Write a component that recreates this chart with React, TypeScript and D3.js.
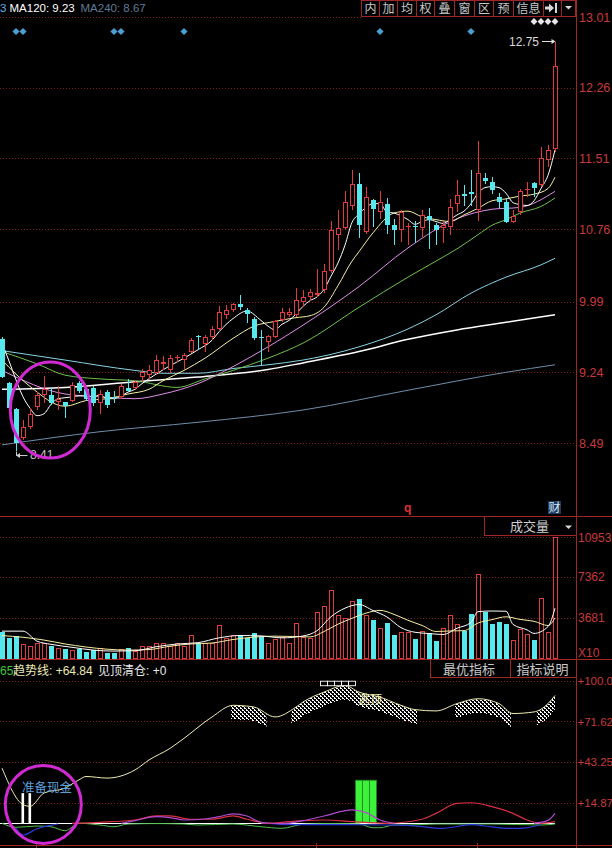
import React from "react";
import * as d3 from "d3";

// K线数据 (80根)
const opens = [
  9.59, 9.13, 8.85, 8.54, 8.66, 8.87, 9.0, 9.0, 8.93, 8.92,
  8.94, 9.13, 9.06, 9.07, 8.91, 9.03, 8.98, 8.98, 9.07, 9.07,
  9.19, 9.21, 9.23, 9.33, 9.26, 9.39, 9.37, 9.46, 9.63, 9.54,
  9.62, 9.7, 9.85, 9.9, 9.96, 9.9, 9.81, 9.62, 9.56, 9.62,
  9.79, 9.85, 9.85, 9.99, 10.04, 10.06, 10.11, 10.31, 10.7, 10.77,
  11.0, 11.24, 10.73, 11.07, 10.94, 11.03, 10.8, 10.75, 10.78, 10.79,
  10.77, 10.9, 10.8, 10.77, 10.78, 11.03, 11.13, 11.15, 10.96, 11.3,
  11.26, 11.1, 11.05, 10.84, 10.94, 11.17, 11.25, 11.23, 11.49, 11.61,
];
const highs = [
  9.61, 9.14, 8.86, 8.73, 8.86, 9.03, 9.2, 9.07, 9.1, 8.93,
  9.14, 9.15, 9.08, 9.1, 9.05, 9.05, 9.04, 9.12, 9.17, 9.16,
  9.28, 9.32, 9.42, 9.41, 9.42, 9.42, 9.44, 9.6, 9.64, 9.64,
  9.73, 9.94, 9.95, 9.98, 10.06, 9.92, 9.83, 9.69, 9.64, 9.8,
  9.92, 9.92, 10.13, 10.11, 10.12, 10.34, 10.39, 10.85, 10.96, 11.16,
  11.39, 11.35, 11.21, 11.08, 11.16, 11.09, 10.87, 10.96, 10.82, 10.85,
  10.96, 10.98, 10.82, 10.85, 11.08, 11.28, 11.23, 11.39, 11.69, 11.36,
  11.31, 11.14, 11.09, 10.96, 11.19, 11.26, 11.26, 11.63, 11.65, 12.75,
];
const lows = [
  9.18, 8.84, 8.41, 8.52, 8.64, 8.84, 8.91, 8.89, 8.84, 8.76,
  8.93, 9.02, 8.94, 8.88, 8.8, 8.86, 8.91, 8.96, 9.03, 9.05,
  9.14, 9.16, 9.21, 9.26, 9.23, 9.35, 9.26, 9.44, 9.48, 9.46,
  9.58, 9.69, 9.81, 9.88, 9.9, 9.76, 9.58, 9.32, 9.46, 9.6,
  9.77, 9.83, 9.83, 9.93, 10.0, 10.04, 10.08, 10.29, 10.54, 10.75,
  10.96, 10.66, 10.71, 10.78, 10.87, 10.71, 10.59, 10.62, 10.59, 10.61,
  10.68, 10.55, 10.59, 10.61, 10.7, 10.94, 11.0, 11.0, 10.85, 11.24,
  11.13, 10.98, 10.82, 10.82, 10.91, 11.1, 11.1, 11.21, 11.42, 11.58,
];
const closes = [
  9.19, 8.86, 8.49, 8.66, 8.8, 9.0, 9.06, 8.91, 8.96, 8.88,
  9.11, 9.04, 8.96, 8.91, 9.01, 8.89, 8.97, 9.1, 9.04, 9.14,
  9.24, 9.26, 9.37, 9.35, 9.39, 9.4, 9.42, 9.58, 9.61, 9.62,
  9.7, 9.88, 9.9, 9.96, 9.93, 9.86, 9.6, 9.6, 9.63, 9.78,
  9.88, 9.88, 10.01, 10.04, 10.09, 10.08, 10.32, 10.75, 10.77, 11.05,
  11.24, 10.8, 11.1, 10.97, 11.05, 10.8, 10.75, 10.94, 10.79, 10.78,
  10.91, 10.86, 10.75, 10.8, 10.99, 11.12, 11.11, 11.13, 11.35, 11.27,
  11.17, 11.05, 10.84, 10.9, 11.16, 11.19, 11.2, 11.51, 11.6, 12.49,
];
const volumes = [
  2424, 1858, 2065, 1347, 1167, 1463, 1463, 1167, 960, 870,
  808, 870, 655, 808, 960, 566, 566, 870, 960, 745,
  1167, 1167, 1463, 1463, 1167, 1463, 1167, 2127, 1409, 1463,
  1463, 3025, 1858, 2127, 2065, 1858, 2307, 2002, 1463, 1768,
  1948, 1463, 3205, 1948, 1858, 4219, 4758, 6194, 3950, 3708,
  5207, 5386, 3950, 3501, 2783, 3232, 2154, 2397, 2424, 1795,
  2514, 2307, 1616, 2783, 3950, 3142, 2514, 4040, 7630, 4219,
  3142, 3321, 3142, 1706, 2693, 2244, 1706, 5476, 2424, 10953,
];

const priceTicks = [13.01, 12.26, 11.51, 10.76, 9.99, 9.24, 8.49];
const volTicks = [10953, 7362, 3681];
const indTicks = [100.0, 71.62, 43.25, 14.87];
const indTickLabels = ["+100.0", "+71.62", "+43.25", "+14.87"];

type Pt = [number, number];

// 均线 (索引, 价格)
const ma5: Pt[] = [
  [0, 9.55], [1, 9.36], [2, 9.16], [3, 8.98], [4, 8.86], [5, 8.78], [6, 8.8], [7, 8.9], [8, 8.96], [9, 8.97],
  [10, 8.98], [11, 8.99], [12, 8.99], [13, 8.98], [14, 9.0], [15, 8.96], [16, 8.96], [17, 8.99], [18, 9.03], [19, 9.06],
  [20, 9.12], [22, 9.22], [24, 9.31], [26, 9.39], [28, 9.48], [30, 9.58], [31, 9.67], [33, 9.81], [35, 9.89], [37, 9.79],
  [38, 9.73], [39, 9.69], [40, 9.75], [41, 9.79], [42, 9.86], [43, 9.94], [44, 10.0], [45, 10.04], [46, 10.12], [47, 10.26],
  [48, 10.4], [49, 10.59], [50, 10.83], [51, 10.92], [52, 10.99], [53, 11.03], [54, 11.03], [55, 10.94], [56, 10.93], [57, 10.9],
  [58, 10.86], [59, 10.81], [60, 10.84], [61, 10.86], [62, 10.84], [63, 10.82], [64, 10.86], [65, 10.91], [66, 10.95], [67, 11.03],
  [68, 11.14], [69, 11.2], [70, 11.21], [71, 11.2], [72, 11.14], [73, 11.04], [74, 11.02], [75, 11.01], [76, 11.06], [77, 11.19],
  [78, 11.33], [79, 11.6],
];
const ma10: Pt[] = [
  [0, 9.37], [4, 9.09], [9, 8.88], [12, 8.94], [15, 8.96], [18, 9.01], [21, 9.06], [23, 9.15], [26, 9.26], [29, 9.39],
  [33, 9.6], [36, 9.73], [39, 9.78], [42, 9.82], [44, 9.84], [46, 9.93], [48, 10.16], [50, 10.42], [51, 10.52], [53, 10.72],
  [56, 10.93], [58, 10.95], [60, 10.89], [62, 10.86], [64, 10.84], [66, 10.91], [68, 10.98], [70, 11.06], [72, 11.08], [74, 11.11],
  [76, 11.13], [78, 11.19], [79, 11.31],
];
const ma20: Pt[] = [
  [0, 9.26], [9, 9.01], [14, 8.98], [19, 8.96], [23, 9.01], [28, 9.12], [33, 9.3], [38, 9.51], [43, 9.74], [51, 10.15],
  [58, 10.56], [65, 10.87], [70, 10.97], [74, 10.99], [79, 11.16],
];
const ma30: Pt[] = [
  [0, 9.46], [5, 9.33], [9, 9.21], [14, 9.17], [19, 9.15], [25, 9.08], [29, 9.17], [33, 9.26], [38, 9.39], [43, 9.55],
  [51, 9.93], [58, 10.25], [62, 10.42], [65, 10.55], [68, 10.7], [70, 10.8], [72, 10.86], [74, 10.93], [77, 11.0], [79, 11.09],
];
const ma60: Pt[] = [
  [0, 9.47], [9, 9.37], [19, 9.26], [23, 9.23], [28, 9.23], [33, 9.28], [38, 9.32], [43, 9.37], [51, 9.51], [58, 9.7],
  [62, 9.85], [67, 10.08], [72, 10.25], [77, 10.38], [79, 10.45],
];
const ma120: Pt[] = [
  [0, 9.06], [9, 9.08], [19, 9.14], [28, 9.19], [38, 9.27], [43, 9.34], [51, 9.46], [58, 9.59], [65, 9.69], [72, 9.77],
  [79, 9.85],
];
const ma240: Pt[] = [
  [0, 8.47], [14, 8.61], [28, 8.71], [43, 8.84], [58, 9.05], [72, 9.24], [79, 9.32],
];

// 成交量均线
const volMa5: Pt[] = [
  [0, 2500], [3, 2500], [5, 1600], [7, 1320], [10, 1050], [13, 800], [16, 710], [19, 740], [22, 1100], [25, 1345],
  [28, 1467], [31, 1897], [34, 2108], [37, 2072], [40, 1898], [43, 2066], [45, 2539], [47, 3795], [49, 4566], [51, 4889],
  [53, 4350], [55, 3770], [57, 2813], [59, 2400], [61, 2287], [63, 2203], [65, 2760], [67, 3286], [68, 4255], [70, 4309],
  [72, 4291], [73, 3106], [75, 2621], [76, 2298], [78, 2909], [79, 4561],
];
const volMa10: Pt[] = [
  [0, 2100], [3, 1950], [6, 1700], [9, 1350], [12, 1077], [15, 880], [18, 800], [21, 846], [24, 1150], [27, 1350],
  [30, 1435], [33, 1750], [36, 1970], [39, 2050], [42, 2021], [44, 1982], [46, 2463], [48, 3131], [50, 3651], [52, 4118],
  [54, 4366], [56, 4007], [58, 3474], [60, 3014], [62, 2472], [64, 2517], [66, 2544], [68, 3229], [70, 3534], [72, 3788],
  [74, 3555], [76, 3384], [78, 3007], [79, 3681],
];

// 指标: 趋势线及其它
const trendLine: Pt[] = [
  [0, 38.9], [3, 13.5], [4, 12.3], [6, 21.6], [9, 25.0], [11, 30.8], [12, 33.1], [15, 32.0], [19, 37.7], [21, 44.6],
  [24, 52.7], [26, 59.7], [30, 74.6], [33, 82.7], [36, 81.5], [39, 74.6], [42, 81.5], [43, 85.0], [46, 91.9], [49, 96.5],
  [51, 91.9], [54, 88.4], [57, 82.7], [59, 79.7], [62, 78.8], [65, 83.9], [68, 87.3], [71, 83.9], [73, 77.0], [76, 78.1],
  [78, 83.9], [79, 89.6],
];
const redLine: Pt[] = [
  [10, 0.5], [14, 1.2], [19, 2.8], [22, 5.6], [24, 5.6], [27, 3.3], [30, 3.3], [33, 5.6], [35, 3.3], [38, 0.5],
  [41, 1.6], [43, 2.3], [46, 2.8], [50, 1.6], [55, 0.5], [60, 3.3], [62, 7.4], [65, 14.4], [67, 14.8], [70, 12.1],
  [73, 7.4], [75, 2.8], [77, 0.5], [79, 1.6],
];
const purpleLineA: Pt[] = [
  [17, 0.5], [19, 2.3], [22, 5.1], [24, 4.5], [26, 2.8], [29, 3.5], [31, 5.1], [33, 7.0], [35, 5.6], [37, 1.2],
  [40, 0.3], [43, 2.3], [46, 5.6], [50, 9.8], [52, 7.9], [54, 2.8], [56, 0.5],
];
const purpleLineB: Pt[] = [[76, 0.5], [78, 2.5], [79, 7.4]];
const blueLineA: Pt[] = [[2, -3.0], [3, -7.7], [5, -3.3], [7, -0.9], [8, 0]];
const blueLineB: Pt[] = [
  [37, 0.7], [40, -0.2], [44, -0.5], [50, -0.5], [55, -0.7], [58, -0.9], [63, -3.0], [67, -0.5], [70, -2.0], [72, -3.0],
  [74, -3.0], [77, -0.5],
];
const greenLine: Pt[] = [
  [0, 0.5], [2, -2.3], [5, -1.4], [7, -1.9], [9, -4.7], [11, 0.5], [14, -0.7], [16, -1.9], [18, 0], [22, 0.3],
  [26, 0], [28, -0.7], [33, 0], [37, -1.9], [40, -3.0], [43, -0.2], [47, 0.3], [51, 0], [53, -2.6], [54, -2.6],
  [56, -0.7], [58, -0.7], [62, 0], [70, 0], [77, -0.7], [79, 0],
];
const hatchRanges = [[33, 37.5], [41.6, 59], [65, 72.4], [76.7, 80]];
const greenBarIdx = [51, 52, 53];
const greenBarValue = 30.5;
const whiteBarIdx = [3, 4];
const whiteBarValue = 21.5;
const boxRowIdx = [46, 47, 48, 49, 50];

const blueSignals = [2, 3, 16, 17, 26, 54, 67];
const whiteSignals = [76, 77, 78, 79];
const menuLabels = ["内", "加", "均", "权", "叠", "窗", "区", "预", "信息"];
const monthTicks = [5, 45, 68];

const RED = "#e03c3c";
const CYAN = "#56e8ec";
const GRID = "#7e1c1c";
const AXIS = "#a02626";
const LABEL = "#c83a3a";
const NUM = "'Liberation Sans', Arial, sans-serif";
const MIX = "'Liberation Sans', 'Noto Sans CJK SC', sans-serif";
const CJK = "'Noto Sans CJK SC', sans-serif";

export default function App() {
  const W = 612;
  const H = 848;
  const x = d3.scaleLinear().domain([0, 79]).range([2, 555]);
  const yP = d3.scaleLinear().domain([8.49, 13.01]).range([443, 17]);
  const yV = d3.scaleLinear().domain([0, 10953]).range([659, 537]);
  const yI = d3.scaleLinear().domain([0, 100]).range([824, 680.5]);

  const mk = (ys: d3.ScaleLinear<number, number>) =>
    d3.line<Pt>().x((d) => x(d[0])).y((d) => ys(d[1])).curve(d3.curveMonotoneX);
  const pLine = mk(yP);
  const vLine = mk(yV);
  const iLine = mk(yI);
  const hatchArea = d3
    .area<Pt>()
    .x((d) => x(d[0]))
    .y0((d) => yI(d[1]) + 14)
    .y1((d) => yI(d[1]) + 0.5)
    .curve(d3.curveMonotoneX);

  const menuEdges = [361, 379, 397, 416, 434, 454, 474, 493, 513, 543, 561, 576];
  const diamond = (s: number) => `M${-s},0L0,${-s}L${s},0L0,${s}Z`;

  const px = (i: number) => Math.round(x(i)) + 0.5;

  return (
    <div style={{ position: "absolute", left: 0, top: 0, width: W, height: H, background: "#000" }}>
      <svg width={W} height={H} style={{ display: "block", background: "#000" }}>
        <defs>
          <pattern id="hatch" x="0" y="0" width="4" height="4" patternUnits="userSpaceOnUse">
            <rect x="0" y="0" width="2" height="1" fill="#ffffff" />
            <rect x="2" y="1" width="1" height="1" fill="#ffffff" />
            <rect x="2" y="2" width="2" height="1" fill="#ffffff" />
            <rect x="0" y="3" width="1" height="1" fill="#ffffff" />
          </pattern>
          <clipPath id="hatchClip">
            {hatchRanges.map(([a, b], k) => (
              <rect key={k} x={x(a) - 2} y={670} width={x(b) - x(a) + 4} height={60} />
            ))}
          </clipPath>
        </defs>

        {/* 顶部标题 */}
        <text x={0} y={11.5} fontSize={11.5} fontFamily={NUM}>
          <tspan fill="#5ab4e6">3</tspan>
          <tspan x={9.5} fill="#ffffff">MA120: 9.23</tspan>
          <tspan x={80.5} fill="#5e7c94">MA240: 8.67</tspan>
        </text>

        {/* 菜单按钮 */}
        <rect x={361.5} y={0.5} width={214} height={16} fill="#000" stroke={AXIS} />
        {menuEdges.slice(1, -1).map((e, k) => (
          <line key={k} x1={e + 0.5} x2={e + 0.5} y1={0} y2={17} stroke={AXIS} />
        ))}
        {menuLabels.map((t, k) => (
          <text key={t} x={(menuEdges[k] + menuEdges[k + 1]) / 2 + 0.5} y={13.2} fontSize={12} fill="#c8c8c8"
            fontFamily={CJK} textAnchor="middle">{t}</text>
        ))}
        <path d="M545,6.5H549V3.5L554,8L549,12.5V9.5H545Z" fill="#d8d8d8" />
        <rect x={555} y={3} width={2} height={10} fill="#d8d8d8" />
        <path d="M565,6L572,6L568.5,9.5Z" fill="#d8d8d8" />

        {/* 价格网格 */}
        {priceTicks.map((t) => (
          <g key={t}>
            <line x1={0} x2={t === 13.01 ? 361 : 576} y1={Math.round(yP(t)) + 0.5} y2={Math.round(yP(t)) + 0.5}
              stroke={GRID} strokeDasharray="1,2" />
            <text x={579} y={yP(t) + 4.5} fontSize={12.5} fill={LABEL} fontFamily={NUM}>
              {t.toFixed(2)}
            </text>
          </g>
        ))}

        {/* 信号菱形 */}
        {blueSignals.map((i) => (
          <path key={i} d={diamond(3.6)} transform={`translate(${x(i)},31.5)`} fill="#4aa0d2" />
        ))}
        {whiteSignals.map((i) => (
          <path key={i} d={diamond(3.4)} transform={`translate(${x(i)},21.5)`} fill="#e6e6e6" />
        ))}

        {/* 均线 */}
        <path d={pLine(ma240)!} fill="none" stroke="#6e8eac" strokeWidth={1} />
        <path d={pLine(ma120)!} fill="none" stroke="#ffffff" strokeWidth={1.5} />
        <path d={pLine(ma60)!} fill="none" stroke="#86d4e6" strokeWidth={1} />
        <path d={pLine(ma30)!} fill="none" stroke="#6cc24a" strokeWidth={1} />
        <path d={pLine(ma20)!} fill="none" stroke="#e28ee8" strokeWidth={1} />
        <path d={pLine(ma10)!} fill="none" stroke="#f6f0a0" strokeWidth={1} />
        <path d={pLine(ma5)!} fill="none" stroke="#ffffff" strokeWidth={1} />

        {/* K线 */}
        <g shapeRendering="crispEdges">
          {closes.map((c, i) => {
            const o = opens[i];
            const up = c >= o;
            const cx = px(i);
            const top = Math.round(yP(Math.max(o, c)));
            const bot = Math.max(top + 1, Math.round(yP(Math.min(o, c))));
            const hi = yP(highs[i]);
            const lo = yP(lows[i]);
            if (up) {
              return (
                <g key={i} stroke={RED}>
                  <line x1={cx} x2={cx} y1={hi} y2={top} />
                  <line x1={cx} x2={cx} y1={bot} y2={lo} />
                  <rect x={cx - 2} y={top + 0.5} width={4} height={Math.max(0.1, bot - top - 1)} fill="#000" />
                </g>
              );
            }
            return (
              <g key={i}>
                <line x1={cx} x2={cx} y1={hi} y2={lo} stroke={CYAN} />
                <rect x={cx - 2.5} y={top} width={5} height={bot - top} fill={CYAN} />
              </g>
            );
          })}
        </g>

        {/* 标注 */}
        <path d={`M${px(2)},${yP(8.41) + 1}V${yP(8.41) + 5}H${px(2) + 11}`} stroke="#d0d0d0" fill="none" />
        <path d={`M${px(2) - 0.5},${yP(8.41) + 5}l4,-2.5v5z`} fill="#d0d0d0" />
        <text x={30} y={yP(8.41) + 8} fontSize={12} fill="#c8c8c8" fontFamily={NUM}>8.41</text>
        <text x={509} y={yP(12.75) + 4} fontSize={12} fill="#d8d8d8" fontFamily={NUM}>12.75</text>
        <path d={`M542,${yP(12.75)}H${px(79) - 3}`} stroke="#e0e0e0" />
        <path d={`M${px(79)},${yP(12.75)}l-4,-2.5v5z`} fill="#e0e0e0" />
        <ellipse cx={x(6.9)} cy={yP(8.84)} rx={40} ry={48} fill="none" stroke="#d22ad2" strokeWidth={3} />

        <text x={404} y={512} fontSize={12} fontWeight="bold" fill="#e03030" fontFamily={NUM}>q</text>
        <rect x={548} y={501} width={13} height={13} fill="#1c3a5c" />
        <text x={554.5} y={512} fontSize={12} fill="#d0e6f6" fontFamily={CJK} textAnchor="middle">财</text>

        {/* 分隔线 */}
        <line x1={0} x2={612} y1={516.5} y2={516.5} stroke={AXIS} />
        <line x1={0} x2={612} y1={659.5} y2={659.5} stroke={AXIS} />
        <line x1={0} x2={612} y1={845.5} y2={845.5} stroke={AXIS} />
        <line x1={576.5} x2={576.5} y1={0} y2={848} stroke={AXIS} />
        {monthTicks.map((i) => (
          <line key={i} x1={Math.round(x(i)) - 0.5} x2={Math.round(x(i)) - 0.5} y1={843} y2={848} stroke={AXIS} />
        ))}

        {/* 成交量 */}
        <rect x={484.5} y={516.5} width={92} height={19} fill="#000" stroke={AXIS} />
        <text x={510} y={531} fontSize={13} fill="#d0d0d0" fontFamily={CJK}>成交量</text>
        <path d="M565,525.5L572,525.5L568.5,529Z" fill="#d8d8d8" />
        {volTicks.map((t) => (
          <g key={t}>
            <line x1={0} x2={576} y1={Math.round(yV(t)) + 0.5} y2={Math.round(yV(t)) + 0.5} stroke={GRID}
              strokeDasharray="1,2" />
            <text x={578} y={yV(t) + 4.5} fontSize={12} fill={LABEL} fontFamily={NUM}>{t}</text>
          </g>
        ))}
        <text x={578} y={657} fontSize={12} fill={LABEL} fontFamily={NUM}>X10</text>
        <g shapeRendering="crispEdges">
          {volumes.map((v, i) => {
            const up = closes[i] >= opens[i];
            const cx = px(i);
            const top = Math.round(yV(v));
            return up ? (
              <rect key={i} x={cx - 2} y={top + 0.5} width={4} height={658 - top} fill="none" stroke={RED} />
            ) : (
              <rect key={i} x={cx - 2.5} y={top} width={5} height={659 - top} fill={CYAN} />
            );
          })}
        </g>
        <path d={vLine(volMa10)!} fill="none" stroke="#f6f0a0" strokeWidth={1} />
        <path d={vLine(volMa5)!} fill="none" stroke="#ffffff" strokeWidth={1} />

        {/* 指标面板 */}
        <text x={0} y={674.5} fontSize={12} fontFamily={MIX}>
          <tspan fill="#3cc83c">65</tspan>
          <tspan x={13} fill="#ecebb4">趋势线: +64.84</tspan>
          <tspan x={98} fill="#e8e8e8">见顶清仓: +0</tspan>
        </text>
        <rect x={430.5} y={659.5} width={80} height={18} fill="#000" stroke={AXIS} />
        <rect x={510.5} y={659.5} width={66} height={18} fill="#000" stroke={AXIS} />
        <text x={469} y={674} fontSize={13} fill="#c8c8c8" fontFamily={CJK} textAnchor="middle">最优指标</text>
        <text x={542.5} y={674} fontSize={13} fill="#c8c8c8" fontFamily={CJK} textAnchor="middle">指标说明</text>

        {indTicks.map((t, k) => (
          <g key={t}>
            <line x1={0} x2={576} y1={Math.round(yI(t)) + 0.5} y2={Math.round(yI(t)) + 0.5} stroke={GRID}
              strokeDasharray="1,2" />
            <text x={577.5} y={yI(t) + 4.5} fontSize={11.5} fill={LABEL} fontFamily={NUM}>{indTickLabels[k]}</text>
          </g>
        ))}

        {greenBarIdx.map((i) => (
          <rect key={i} x={x(i) - 3.5} y={yI(greenBarValue)} width={7} height={yI(0) - yI(greenBarValue)}
            fill="#3cf03c" stroke="#1a8a1a" strokeWidth={0.8} />
        ))}
        {whiteBarIdx.map((i) => (
          <rect key={i} x={x(i) - 1.5} y={yI(whiteBarValue)} width={2.6} height={yI(0) - yI(whiteBarValue)}
            fill="#ffffff" />
        ))}

        <line x1={0} x2={x(79)} y1={yI(0) - 0.5} y2={yI(0) - 0.5} stroke="#ffffff" strokeWidth={1.2} />
        <path d={iLine(greenLine)!} fill="none" stroke="#4cc04c" strokeWidth={1} />
        <path d={iLine(blueLineA)!} fill="none" stroke="#2a3ad8" strokeWidth={1.2} />
        <path d={iLine(blueLineB)!} fill="none" stroke="#2a3ad8" strokeWidth={1.2} />
        <path d={iLine(redLine)!} fill="none" stroke="#d8303c" strokeWidth={1.2} />
        <path d={iLine(purpleLineA)!} fill="none" stroke="#b04ad0" strokeWidth={1.2} />
        <path d={iLine(purpleLineB)!} fill="none" stroke="#b04ad0" strokeWidth={1.2} />

        <path d={hatchArea(trendLine)!} fill="url(#hatch)" clipPath="url(#hatchClip)" shapeRendering="crispEdges" />
        <path d={iLine(trendLine)!} fill="none" stroke="#f0eeb0" strokeWidth={1} />
        {boxRowIdx.map((i) => (
          <rect key={i} x={x(i) - 3.5} y={yI(99.5)} width={7} height={4.5} fill="#000" stroke="#ffffff"
            strokeWidth={0.9} />
        ))}
        <text x={x(51) - 1} y={704} fontSize={12} fill="#ecebb4" fontFamily={CJK}>逃顶</text>

        <text x={x(3) - 1} y={792} fontSize={12.5} fill="#5a9ed8" fontFamily={CJK}>准备现金</text>
        <ellipse cx={x(5.9)} cy={yI(13.6)} rx={38} ry={39} fill="none" stroke="#d22ad2" strokeWidth={3} />
      </svg>
    </div>
  );
}
